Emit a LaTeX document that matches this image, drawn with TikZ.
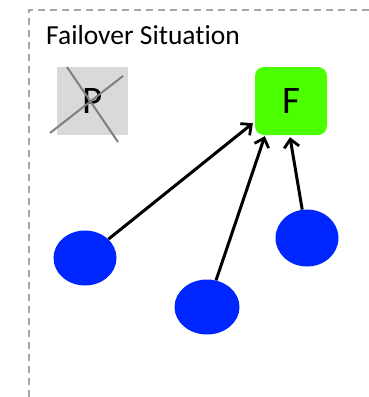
\documentclass[tikz,border=0pt]{standalone}
\usepackage{fontspec}
\setmainfont{Carlito}[Ligatures=NoCommon]
\usetikzlibrary{arrows.meta,shapes.geometric}
\definecolor{boxgray}{HTML}{D9D9D9}
\definecolor{crossgray}{HTML}{7F7F7F}
\definecolor{fgreen}{HTML}{4CFF00}
\definecolor{nodeblue}{HTML}{0026FF}
\definecolor{framegray}{HTML}{A6A6A6}
\tikzset{
  frame/.style={draw=framegray, line width=1.6pt, dash pattern=on 7pt off 5pt},
  client/.style={ellipse, fill=nodeblue, draw=none, inner sep=0pt},
  primary/.style={fill=boxgray, draw=none, minimum width=71pt, minimum height=68pt, inner sep=0pt, font=\fontsize{39}{40}\selectfont},
  follower/.style={fill=fgreen, draw=none, rounded corners=9pt, minimum width=72pt, minimum height=68pt, inner sep=0pt, font=\fontsize{39}{40}\selectfont},
  link/.style={line width=3pt, -{Straight Barb[length=8pt,width=15pt,line width=2.8pt]}},
  crossline/.style={draw=crossgray, line width=2pt}
}
\begin{document}
\begin{tikzpicture}[x=1pt,y=-1pt]
\useasboundingbox (0,0) rectangle (369,397);
\draw[frame] (29,397) -- (29,10) -- (369,10);
\node[anchor=west, font=\fontsize{27.5}{30}\selectfont, inner sep=0pt] (title) at (46,35) {Failover Situation};
\node[primary] (P) at (92.5,101) {P};
\coordinate (c1a) at (50,133);
\coordinate (c1b) at (123,76);
\coordinate (c2a) at (67,67);
\coordinate (c2b) at (118,142);
\draw[crossline] (c1a) -- (c1b);
\draw[crossline] (c2a) -- (c2b);
\node[follower] (F) at (291,101) {F};
\node[client, minimum width=63pt, minimum height=55pt] (c1) at (85,258) {};
\node[client, minimum width=65pt, minimum height=55pt] (c2) at (207,307) {};
\node[client, minimum width=63pt, minimum height=57pt] (c3) at (307,238) {};
\draw[link] (c1) -- ([xshift=-2pt,yshift=12pt]F.south west);
\draw[link] (c2) -- ([xshift=10pt,yshift=-1pt]F.south west);
\draw[link] (c3) -- ([xshift=-1pt,yshift=-2pt]F.south);
\end{tikzpicture}
\end{document}
